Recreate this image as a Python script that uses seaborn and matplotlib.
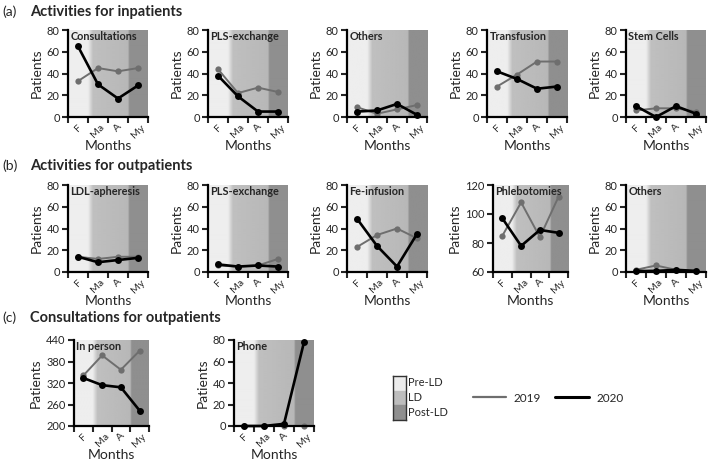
import numpy as np
import pandas as pd
import matplotlib
matplotlib.use("Agg")
import matplotlib.pyplot as plt
import seaborn as sns
from matplotlib.lines import Line2D

sns.set_style("white")
plt.rcParams['font.family'] = ['Lato', 'DejaVu Sans']

months = ["F", "Ma", "A", "My"]

# (a) inpatients
in_consult_2019 = [33, 45, 42, 45]
in_consult_2020 = [65, 30, 17, 29]
in_pls_2019 = [44, 22, 27, 23]
in_pls_2020 = [38, 19, 5, 5]
in_others_2019 = [9, 3, 7, 11]
in_others_2020 = [5, 6, 12, 2]
in_transf_2019 = [28, 39, 51, 51]
in_transf_2020 = [42, 35, 26, 28]
in_stem_2019 = [6, 8, 8, 5]
in_stem_2020 = [10, 0, 10, 3]

# (b) outpatients
out_ldl_2019 = [14, 12, 14, 14]
out_ldl_2020 = [14, 9, 11, 13]
out_pls_2019 = [6, 5, 6, 12]
out_pls_2020 = [7, 5, 6, 5]
out_fe_2019 = [23, 34, 40, 31]
out_fe_2020 = [49, 24, 5, 35]
out_phleb_2019 = [85, 108, 84, 112]
out_phleb_2020 = [97, 78, 89, 87]
out_others_2019 = [2, 6, 2, 1]
out_others_2020 = [1, 1, 2, 1]

# (c) consultations for outpatients
cons_person_2019 = [341, 397, 357, 410]
cons_person_2020 = [334, 314, 308, 243]
cons_phone_2019 = [0, 0, 0, 0]
cons_phone_2020 = [0, 0, 2, 78]

W, H = 709, 466
fig = plt.figure(figsize=(W / 100, H / 100), dpi=100)

def px_axes(left, top, width, height):
    return fig.add_axes([left / W, 1 - (top + height) / H, width / W, height / H])

# period shading: pre-LD, LD, post-LD with soft edges
grad_x = np.linspace(0, 4, 400)
grad_v = np.interp(grad_x, [0, 1.0, 1.25, 3.0, 3.08, 4], [0.93, 0.93, 0.75, 0.72, 0.56, 0.56])

def panel(left, top, title, v2019, v2020, ylim, yticks, width=80, height=87):
    ax = px_axes(left, top, width, height)
    ax.imshow(grad_v[np.newaxis, :], cmap="gray", vmin=0, vmax=1, aspect="auto",
              extent=[0, 4, ylim[0], ylim[1]], zorder=0)
    df = pd.DataFrame({"pos": np.arange(4) + 0.5,
                       "2019": v2019, "2020": v2020})
    sns.lineplot(data=df, x="pos", y="2019", ax=ax, color="#6e6e6e", lw=1.4,
                 marker="o", markersize=4.5, markeredgewidth=0, zorder=3, clip_on=False)
    sns.lineplot(data=df, x="pos", y="2020", ax=ax, color="black", lw=1.9,
                 marker="o", markersize=5, markeredgewidth=0, zorder=4, clip_on=False)
    ax.set_xlim(0, 4)
    ax.set_ylim(*ylim)
    ax.set_yticks(yticks)
    ax.set_xticks(range(5))
    ax.set_xticklabels([])
    ax.set_xticks(np.arange(4) + 0.5, minor=True)
    ax.set_xticklabels(months, minor=True, rotation=45, fontsize=7.5)
    ax.tick_params(axis="x", which="major", direction="out", length=4, width=1.5, bottom=True)
    ax.tick_params(axis="x", which="minor", length=0, pad=4)
    ax.tick_params(axis="y", direction="out", length=4, width=1.5, left=True,
                   labelsize=8, pad=2)
    for s in ["top", "right"]:
        ax.spines[s].set_visible(False)
    for s in ["left", "bottom"]:
        ax.spines[s].set_linewidth(1.6)
        ax.spines[s].set_color("black")
        ax.spines[s].set_zorder(6)
    ax.set_xlabel("Months", fontsize=10, labelpad=0)
    ax.set_ylabel("Patients", fontsize=10, labelpad=3)
    ax.text(0.03, 0.985, title, transform=ax.transAxes, ha="left", va="top",
            fontsize=7.8, fontweight="bold", zorder=5)
    return ax

ticks80 = [0, 20, 40, 60, 80]

def header(y, tag, text):
    fig.text(2 / W, 1 - y / H, tag, fontsize=10, va="center")
    fig.text(30 / W, 1 - y / H, text, fontsize=10.5, fontweight="bold", va="center")

# row a
header(12, "(a)", "Activities for inpatients")
panel(68, 30, "Consultations", in_consult_2019, in_consult_2020, (0, 80), ticks80)
panel(208, 30, "PLS-exchange", in_pls_2019, in_pls_2020, (0, 80), ticks80)
panel(347, 30, "Others", in_others_2019, in_others_2020, (0, 80), ticks80)
panel(487, 30, "Transfusion", in_transf_2019, in_transf_2020, (0, 80), ticks80)
panel(626, 30, "Stem Cells", in_stem_2019, in_stem_2020, (0, 80), ticks80)

# row b
header(166, "(b)", "Activities for outpatients")
panel(68, 185, "LDL-apheresis", out_ldl_2019, out_ldl_2020, (0, 80), ticks80)
panel(208, 185, "PLS-exchange", out_pls_2019, out_pls_2020, (0, 80), ticks80)
panel(347, 185, "Fe-infusion", out_fe_2019, out_fe_2020, (0, 80), ticks80)
panel(493, 185, "Phlebotomies", out_phleb_2019, out_phleb_2020, (60, 120), [60, 80, 100, 120],
      width=75)
panel(626, 185, "Others", out_others_2019, out_others_2020, (0, 80), ticks80)

# row c
header(318, "(c)", "Consultations for outpatients")
panel(74, 340, "In person", cons_person_2019, cons_person_2020, (200, 440),
      [200, 260, 320, 380, 440], width=75, height=86)
panel(234, 340, "Phone", cons_phone_2019, cons_phone_2020, (0, 80), ticks80, height=86)

# period legend
lax = px_axes(393, 376, 13, 44)
lax.axhspan(2, 3, color="#ececec")
lax.axhspan(1, 2, color="#bdbdbd")
lax.axhspan(0, 1, color="#8f8f8f")
lax.set_xlim(0, 1)
lax.set_ylim(0, 3)
lax.set_xticks([])
lax.set_yticks([])
for s in lax.spines.values():
    s.set_linewidth(1.0)
    s.set_color("#333333")
for i, lab in enumerate(["Pre-LD", "LD", "Post-LD"]):
    fig.text(408 / W, 1 - (383 + i * 14.5) / H, lab, fontsize=8, va="center")

handles = [Line2D([], [], color="#6e6e6e", lw=1.6),
           Line2D([], [], color="black", lw=2.2)]
fig.legend(handles, ["2019", "2020"], loc="center left",
           bbox_to_anchor=(462 / W, 1 - 398 / H), ncol=2, frameon=False,
           fontsize=8.5, handlelength=2.8, columnspacing=1.2, handletextpad=0.7)

fig.savefig("out.png", dpi=100)
